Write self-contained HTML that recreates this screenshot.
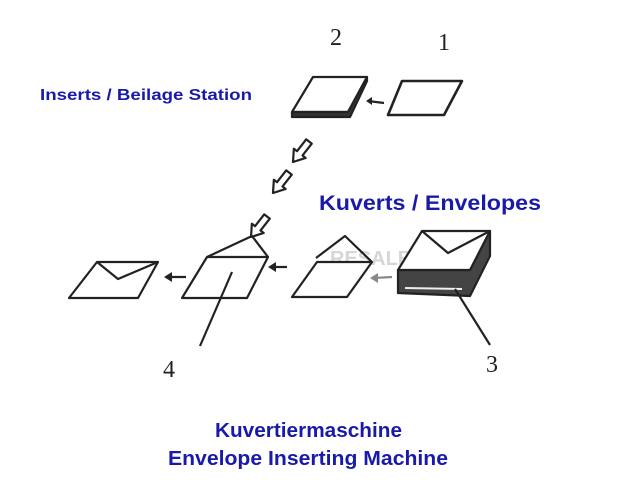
<!DOCTYPE html>
<html><head><meta charset="utf-8"><style>
html,body{margin:0;padding:0;background:#fff;}
svg{display:block}
.b{font-family:"Liberation Sans",sans-serif;font-weight:bold;fill:#1a1aaa}
.n{font-family:"Liberation Serif",serif;fill:#222;font-size:24px}
</style></head><body>
<svg width="621" height="482" viewBox="0 0 621 482" xmlns="http://www.w3.org/2000/svg">
<defs>
<polygon id="ha" points="-3.5,-26 3.5,-26 3.5,-11 7.5,-11 0,0 -7.5,-11 -3.5,-11" fill="#fff" stroke="#222" stroke-width="2.2" stroke-linejoin="round"/>
</defs>
<rect width="621" height="482" fill="#fff"/>
<text class="n" x="330" y="45">2</text>
<text class="n" x="438" y="50">1</text>
<text class="n" x="163" y="377">4</text>
<text class="n" x="486" y="372">3</text>
<text class="b" x="40" y="100" font-size="15.5" textLength="212" lengthAdjust="spacingAndGlyphs">Inserts / Beilage Station</text>
<text class="b" x="319" y="210" font-size="21" textLength="222" lengthAdjust="spacingAndGlyphs">Kuverts / Envelopes</text>
<text class="b" x="215" y="437" font-size="20" textLength="187" lengthAdjust="spacingAndGlyphs">Kuvertiermaschine</text>
<text class="b" x="168" y="465" font-size="20" textLength="280" lengthAdjust="spacingAndGlyphs">Envelope Inserting Machine</text>
<text x="330" y="265" font-family="Liberation Sans,sans-serif" font-weight="bold" font-size="20" fill="#bbb" opacity="0.6">RESALE</text>
<g fill="none" stroke="#222" stroke-width="2.2" stroke-linejoin="round">
<!-- item 2 -->
<polygon points="313,77 367,77 348,112 292,112" fill="#fff"/>
<polygon points="292,112 348,112 367,77 367,81 350,117 292,117" fill="#333"/>
<!-- item 1 -->
<polygon points="402,81 462,81 444,115 388,115" fill="#fff" stroke-width="2.6"/>
<line x1="384" y1="103" x2="368" y2="101"/>
<polygon points="366,101 372,97 372,105" fill="#222" stroke="none"/>
<!-- hollow arrows -->
<use href="#ha" transform="translate(293,162) rotate(38)"/>
<use href="#ha" transform="translate(273,193) rotate(38)"/>
<use href="#ha" transform="translate(251,237) rotate(38)"/>
<!-- envelope left -->
<polygon points="97,262 158,262 138,298 69,298" fill="#fff"/>
<polyline points="97,262 118,279 158,262"/>
<line x1="186" y1="277" x2="168" y2="277"/>
<polygon points="164,277 172,272 172,282" fill="#222" stroke="none"/>
<!-- envelope 4 -->
<polygon points="207,257 268,257 247,298 182,298" fill="#fff"/>
<polyline points="207,257 252,236 268,257"/>
<line x1="232" y1="272" x2="200" y2="346"/>
<line x1="287" y1="267" x2="272" y2="267"/>
<polygon points="268,267 276,262 276,272" fill="#222" stroke="none"/>
<!-- open envelope -->
<polygon points="317,262 372,262 347,297 292,297" fill="#fff"/>
<polyline points="316,258 345,236 372,262"/>
<line x1="392" y1="277" x2="374" y2="278" stroke="#888"/>
<polygon points="370,278 378,273 378,283" fill="#888" stroke="none"/>
<!-- stack 3 -->
<polygon points="398,270 470,270 490,231 490,256 470,296 398,293" fill="#444"/>
<line x1="405" y1="288" x2="462" y2="289" stroke="#eee" stroke-width="2"/>
<polygon points="422,231 490,231 470,270 398,270" fill="#fff"/>
<polyline points="422,231 448,253 490,231"/>
<line x1="455" y1="289" x2="490" y2="345"/>
</g>
</svg>
</body></html>
